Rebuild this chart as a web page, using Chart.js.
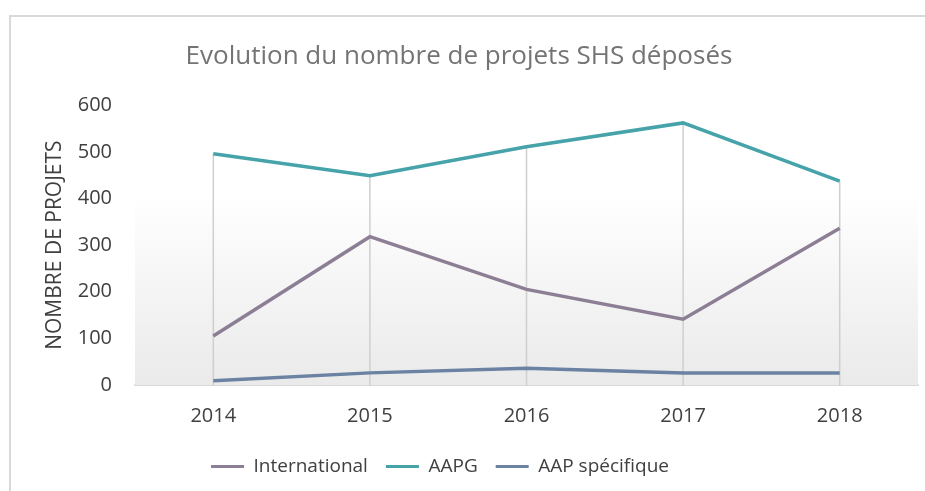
<!DOCTYPE html>
<html>
<head>
<meta charset="utf-8">
<script src="https://cdn.jsdelivr.net/npm/chart.js@4/dist/chart.umd.min.js"></script>
<style>
  html, body { margin: 0; padding: 0; background: #ffffff; }
  #wrap { position: relative; width: 925px; height: 491px; overflow: hidden; }
  #frame { position: absolute; left: 9px; top: 15px; width: 1200px; height: 1200px; border: 2px solid #d9d9d9; box-sizing: border-box; }
  canvas { position: absolute; left: 0; top: 0; }
</style>
</head>
<body>
<div id="wrap">
  <div id="frame"></div>
  <canvas id="c" width="925" height="491"></canvas>
</div>
<script>
const years = ['2014', '2015', '2016', '2017', '2018'];
const international = [105, 318, 205, 141, 336];
const aapg = [496, 449, 511, 562, 437];
const aapSpecifique = [9, 26, 36, 26, 26];
const yTicks = [0, 100, 200, 300, 400, 500, 600];

const FONT = "'Open Sans', 'Noto Sans', sans-serif";

const backdrop = {
  id: 'backdrop',
  afterLayout(chart) {
    const lg = chart.legend;
    if (lg) { lg.top -= 5; lg.bottom -= 5; lg.left -= 19; lg.right -= 19; }
  },
  beforeDatasetsDraw(chart) {
    const { ctx, chartArea: a, scales } = chart;
    const top = scales.y.getPixelForValue(410);
    const bottom = scales.y.getPixelForValue(0);
    const g = ctx.createLinearGradient(0, top, 0, bottom);
    g.addColorStop(0, 'rgba(255,255,255,1)');
    g.addColorStop(1, 'rgba(234,234,234,1)');
    ctx.save();
    ctx.fillStyle = g;
    ctx.fillRect(a.left, top, a.right - a.left, bottom - top);
    ctx.strokeStyle = '#cfcfcf';
    ctx.lineWidth = 1.5;
    years.forEach((_, i) => {
      const maxV = Math.max(...chart.data.datasets.map(d => d.data[i]));
      const x = scales.x.getPixelForValue(i);
      ctx.beginPath();
      ctx.moveTo(x, scales.y.getPixelForValue(maxV));
      ctx.lineTo(x, bottom + 1);
      ctx.stroke();
    });
    ctx.restore();
  }
};

new Chart(document.getElementById('c'), {
  type: 'line',
  data: {
    labels: years,
    datasets: [
      { label: 'International', data: international, borderColor: '#8c7e94', backgroundColor: '#8c7e94', borderWidth: 3.5, pointRadius: 0, tension: 0 },
      { label: 'AAPG', data: aapg, borderColor: '#45a3a9', backgroundColor: '#45a3a9', borderWidth: 3.5, pointRadius: 0, tension: 0 },
      { label: 'AAP spécifique', data: aapSpecifique, borderColor: '#6b82a2', backgroundColor: '#6b82a2', borderWidth: 3.5, pointRadius: 0, tension: 0 }
    ]
  },
  options: {
    responsive: false,
    animation: false,
    layout: { padding: { left: 0, right: 7, top: 0, bottom: 0 } },
    plugins: {
      title: {
        display: true,
        text: 'Evolution du nombre de projets SHS déposés',
        color: '#747474',
        font: { family: FONT, size: 26, weight: 'normal' },
        padding: { top: 41, bottom: 33 }
      },
      legend: {
        position: 'bottom',
        labels: {
          color: '#404040',
          font: { family: FONT, size: 19 },
          boxWidth: 33,
          boxHeight: 3,
          padding: 18,
          generateLabels(chart) {
            return Chart.defaults.plugins.legend.labels.generateLabels(chart)
              .map(l => Object.assign(l, { lineWidth: 0 }));
          }
        }
      },
      tooltip: { enabled: false }
    },
    scales: {
      x: {
        offset: true,
        grid: { display: false, drawTicks: false },
        border: { display: true, color: '#d9d9d9', width: 2 },
        ticks: { color: '#404040', font: { family: FONT, size: 20 }, padding: 19 },
        afterFit(s) { s.height = 59; }
      },
      y: {
        min: 0,
        max: 600,
        afterBuildTicks(s) { s.ticks = yTicks.map(v => ({ value: v })); },
        grid: { display: false, drawTicks: false },
        border: { display: false },
        ticks: { color: '#404040', font: { family: FONT, size: 20 }, padding: 23 },
        title: {
          display: true,
          text: 'NOMBRE DE PROJETS',
          color: '#404040',
          font: { family: FONT, size: 21 },
          padding: { top: 42, bottom: 0 }
        },
        afterFit(s) { s.width = 135; }
      }
    }
  },
  plugins: [backdrop]
});
</script>
</body>
</html>
